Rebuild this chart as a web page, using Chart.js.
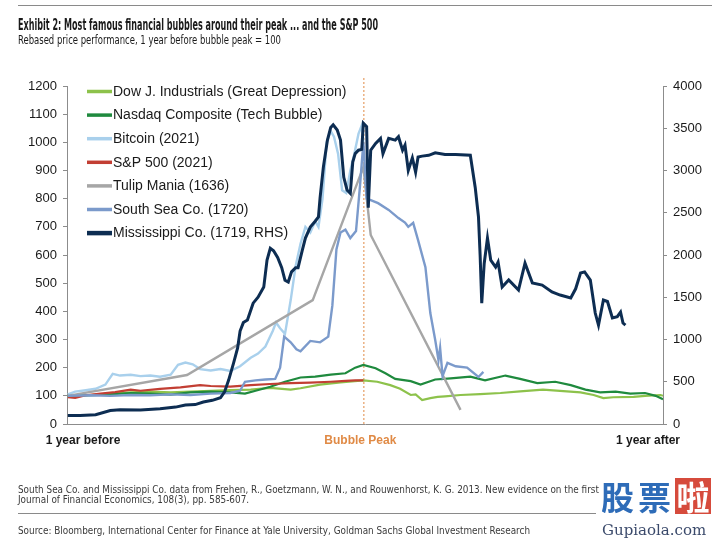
<!DOCTYPE html>
<html><head><meta charset="utf-8">
<script src="https://cdn.jsdelivr.net/npm/chart.js@4.4.0/dist/chart.umd.min.js"></script>
<style>
html,body{margin:0;padding:0;background:#fff;}
#wrap{position:relative;width:712px;height:541px;overflow:hidden;font-family:"Liberation Sans",Arial,sans-serif;}
#c{position:absolute;left:0;top:0;}
.t{position:absolute;white-space:nowrap;transform-origin:0 50%;}
.cond{font-family:"Liberation Sans Narrow","DejaVu Sans Condensed","Liberation Sans",sans-serif;}
.rule{position:absolute;height:1px;background:#8a8a8a;}
.fn{font-size:10px;line-height:11px;color:#3a3a3a;}
</style></head>
<body><div id="wrap">
<canvas id="c" width="712" height="541"></canvas>
<div class="rule" style="top:5px;left:18px;width:694px;"></div>
<div class="t cond" id="title" style="left:18px;top:16.5px;font-weight:bold;font-size:15px;line-height:17px;color:#1a1a1a">Exhibit 2: Most famous financial bubbles around their peak ... and the S&amp;P 500</div>
<div class="t cond" id="sub" style="left:18px;top:32px;font-size:13px;line-height:15px;color:#1a1a1a">Rebased price performance, 1 year before bubble peak = 100</div>
<div style="position:absolute;left:0;top:484px;width:599px;height:24px;overflow:hidden">
<div class="t cond fn" id="fn1" style="left:18px;top:0px"><span id="fn1a">South Sea Co. and Mississippi Co. data from Frehen, R., Goetzmann, W. N., and Rouwenhorst, K. G. 2013. New evidence on the fi</span>rst financial bubble.</div>
<div class="t cond fn" id="fn2" style="left:18px;top:10px">Journal of Financial Economics, 108(3), pp. 585-607.</div>
</div>
<div class="rule" style="top:513px;left:18px;width:578px;"></div>
<div class="t cond fn" id="src" style="left:18px;top:525px">Source: Bloomberg, International Center for Finance at Yale University, Goldman Sachs Global Investment Research</div>
<div style="position:absolute;left:601px;top:476px;font-family:'Noto Sans CJK SC',sans-serif;font-weight:bold;font-size:33px;line-height:40px;white-space:nowrap">
<span style="color:#2e6cb8">股</span><span style="color:#2e6cb8;margin-left:4px">票</span><span style="display:inline-block;margin-left:4px;background:#d64b3c;color:#fff;width:36px;height:36px;line-height:36px;text-align:center;vertical-align:top;margin-top:2px">啦</span>
</div>
<div class="t" style="left:602px;top:521px;font-family:'DejaVu Serif','Liberation Serif',serif;font-size:15px;line-height:18px;color:#3b4a6b">Gupiaola.com</div>
</div>
<script>
// ---- data (x = days relative to bubble peak) ----
const xLabels = ["1 year before", "Bubble Peak", "1 year after"];
const leftTicks = [0, 1200, 100];
const rightTicks = [0, 4000, 500];

const seriesNames = ["Dow J. Industrials (Great Depression)", "Nasdaq Composite (Tech Bubble)", "Bitcoin (2021)", "S&P 500 (2021)", "Tulip Mania (1636)", "South Sea Co. (1720)", "Mississippi Co. (1719, RHS)"];

const dowDays = [-362,-334,-310,-285,-261,-236,-212,-187,-163,-138,-114,-89,-77,-53,-28,0,17,33,45,58,64,72,82,91,100,119,143,168,192,220,245,266,282,294,306,331,345,364,367];
const dowVals = [100,103,108,112,115,112,115,118,120,122,128,122,127,140,148,155,150,138,125,103,105,85,92,96,98,103,106,110,116,122,117,112,103,92,95,96,100,103,100];

const nasdaqDays = [-362,-334,-310,-285,-261,-236,-212,-187,-163,-145,-132,-114,-96,-77,-59,-40,-22,-10,0,15,27,39,58,70,88,107,131,149,174,192,213,235,254,272,290,309,327,345,358,367];
const nasdaqVals = [100,102,105,110,108,104,112,115,112,108,118,132,150,165,168,175,180,200,210,198,180,160,152,140,158,162,168,155,172,160,145,150,138,122,112,115,108,110,100,88];

const btcDays = [-362,-353,-340,-328,-316,-307,-298,-285,-273,-261,-249,-236,-227,-218,-209,-200,-187,-175,-163,-151,-138,-129,-120,-111,-107,-102,-96,-89,-83,-77,-71,-65,-59,-55,-50,-45,-40,-36,-31,-26,-21,-16,-11,-6,-2,0];
const btcVals = [105,115,120,125,140,178,172,175,170,172,168,175,210,218,212,195,190,195,188,205,235,250,275,330,360,340,320,440,560,640,700,680,720,700,800,1000,1040,1020,960,830,820,900,960,1030,1060,1000];

const spDays = [-362,-353,-340,-322,-304,-285,-273,-249,-224,-200,-187,-163,-138,-114,-89,-65,-40,-22,-10,0];
const spVals = [95,93,102,108,113,122,118,125,130,138,135,133,138,142,145,147,150,153,155,155];

const tulipDays = [-362,-216,-62,0,9,119];
const tulipVals = [100,174,440,912,671,50];

const southDays = [-362,-334,-310,-285,-261,-236,-212,-187,-163,-151,-145,-132,-120,-108,-102,-97,-89,-82,-77,-65,-53,-43,-38,-33,-28,-22,-16,-9,-4,0,4,9,18,31,43,51,55,61,67,76,82,88,92,94,97,103,113,127,141,147];
const southVals = [100,102,100,103,102,105,103,108,110,118,150,155,158,160,200,310,290,265,258,295,290,310,420,620,680,690,660,685,850,1000,800,795,784,760,731,715,700,714,653,557,394,298,227,270,170,217,205,200,167,185];

const missDays = [-362,-347,-328,-310,-298,-273,-249,-230,-218,-206,-196,-185,-175,-170,-165,-159,-154,-151,-147,-142,-135,-129,-122,-118,-114,-110,-105,-100,-96,-92,-88,-83,-80,-75,-71,-65,-59,-55,-53,-49,-44,-40,-37,-32,-28,-24,-20,-16,-13,-10,-6,-2,0,4,6,9,15,21,24,31,39,43,48,51,55,60,64,67,72,80,88,100,113,131,137,141,143,145,148,152,156,162,165,170,178,190,198,207,219,231,241,254,260,266,271,278,284,288,294,299,305,311,315,318,321];
const missVals = [100,100,110,160,170,165,180,200,225,230,260,280,310,380,520,720,900,1100,1200,1230,1430,1500,1620,1940,2080,2050,1970,1850,1700,1680,1800,1850,1850,2050,2200,2330,2400,2450,2680,3040,3360,3510,3540,3480,3360,2920,2770,2730,3100,3200,3240,3250,3560,3520,2560,3240,3320,3380,3200,3380,3360,3400,3240,3300,3000,3150,2980,3160,3170,3180,3210,3190,3190,3180,2800,2450,2000,1430,1900,2200,1940,1857,1916,1621,1704,1585,1904,1668,1644,1562,1526,1491,1600,1786,1800,1704,1313,1171,1467,1450,1254,1270,1325,1195,1170];

const colors = ["#8dc24b", "#1f8a3e", "#a9d0ec", "#c23e33", "#a6a6a6", "#7b9acb", "#0d2d52"];

function pts(d, v){ return d.map((x,i)=>({x:x, y:v[i]})); }
const seriesData = [pts(dowDays,dowVals), pts(nasdaqDays,nasdaqVals), pts(btcDays,btcVals), pts(spDays,spVals), pts(tulipDays,tulipVals), pts(southDays,southVals), pts(missDays,missVals)];
const drawOrder = [6,5,4,3,2,1,0];
const widths = [2.2,2.2,2.4,2.2,2.4,2.4,3];

const datasets = seriesData.map((d,i)=>({
  label: seriesNames[i], data: d, borderColor: colors[i], backgroundColor: colors[i],
  borderWidth: widths[i], pointRadius: 0, tension: 0, fill: false,
  yAxisID: i===6 ? 'y1' : 'y', order: drawOrder[i]
}));

const overlay = {
  id: 'overlay',
  beforeDatasetsDraw(chart){
    const ctx = chart.ctx, xs = chart.scales.x, a = chart.chartArea;
    const px = xs.getPixelForValue(0);
    ctx.save();
    ctx.strokeStyle = '#e08a45'; ctx.lineWidth = 1; ctx.setLineDash([2,2]);
    ctx.beginPath(); ctx.moveTo(px+0.5, a.top-8); ctx.lineTo(px+0.5, a.bottom); ctx.stroke();
    ctx.restore();
  },
  afterDraw(chart){
    const ctx = chart.ctx, xs = chart.scales.x, a = chart.chartArea;
    ctx.save();
    ctx.font = 'bold 12px "Liberation Sans", Arial, sans-serif';
    ctx.textBaseline = 'middle'; ctx.textAlign = 'center';
    ctx.fillStyle = '#1a1a1a';
    ctx.fillText(xLabels[0], xs.getPixelForValue(xs.min) + 16, a.bottom + 17);
    ctx.fillStyle = '#e08a45';
    ctx.fillText(xLabels[1], xs.getPixelForValue(0) - 3, a.bottom + 17);
    ctx.fillStyle = '#1a1a1a';
    ctx.fillText(xLabels[2], xs.getPixelForValue(xs.max) - 15, a.bottom + 17);
    ctx.font = '14px "Liberation Sans", Arial, sans-serif';
    ctx.textAlign = 'left';
    const x0 = a.left + 20, y0 = a.top + 5.5, step = 23.6;
    seriesNames.forEach((n,i)=>{
      const y = y0 + i*step;
      ctx.strokeStyle = colors[i]; ctx.lineWidth = i===6 ? 4.5 : 3.5; ctx.setLineDash([]);
      ctx.beginPath(); ctx.moveTo(x0, y); ctx.lineTo(x0+25, y); ctx.stroke();
      ctx.fillStyle = '#1a1a1a';
      ctx.fillText(n, x0+26, y+0.5);
    });
    ctx.restore();
  }
};

const axisColor = '#8c8c8c';
const tickFont = {family: '"Liberation Sans", Arial, sans-serif', size: 13};
const plain = v => String(v);
new Chart(document.getElementById('c').getContext('2d'), {
  type: 'line',
  data: { datasets: datasets },
  options: {
    responsive: false, devicePixelRatio: 1, animation: false,
    layout: { padding: { top: 86, left: 0, right: 0, bottom: 0 } },
    plugins: { legend: { display: false }, tooltip: { enabled: false } },
    scales: {
      x: { type: 'linear', min: -363, max: 367,
        grid: { display: false }, ticks: { display: false },
        border: { display: true, color: axisColor, width: 1 },
        afterFit(s){ s.height = 117; } },
      y: { position: 'left', min: leftTicks[0], max: leftTicks[1],
        ticks: { stepSize: leftTicks[2], color: '#1a1a1a', font: tickFont, padding: 6, callback: plain },
        grid: { display: true, drawOnChartArea: false, drawTicks: true, tickLength: 4, color: axisColor },
        border: { display: true, color: axisColor, width: 1 },
        afterFit(s){ s.width = 67; } },
      y1: { position: 'right', min: rightTicks[0], max: rightTicks[1],
        ticks: { stepSize: rightTicks[2], color: '#1a1a1a', font: tickFont, padding: 6, callback: plain },
        grid: { display: true, drawOnChartArea: false, drawTicks: true, tickLength: 4, color: axisColor },
        border: { display: true, color: axisColor, width: 1 },
        afterFit(s){ s.width = 49; } }
    }
  },
  plugins: [overlay]
});

function fitAll(){
  const fitTo = (el, w) => { el.style.transform = 'none'; const m = el.getBoundingClientRect().width; const k = w / m; el.style.transform = 'scaleX(' + k + ')'; return k; };
  fitTo(document.getElementById('title'), 360);
  fitTo(document.getElementById('sub'), 263);
  const k = fitTo(document.getElementById('src'), 512);
  document.getElementById('fn1').style.transform = 'scaleX(' + k + ')';
  document.getElementById('fn2').style.transform = 'scaleX(' + k + ')';
}
fitAll();
if (document.fonts && document.fonts.ready) document.fonts.ready.then(fitAll);
</script>
</body></html>
